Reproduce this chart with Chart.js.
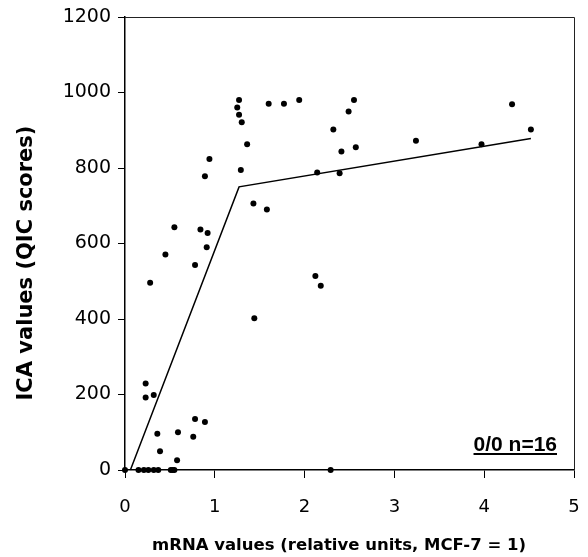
<!DOCTYPE html>
<html>
<head>
<meta charset="utf-8">
<script src="https://cdn.jsdelivr.net/npm/chart.js@4/dist/chart.umd.min.js"></script>
<style>
  html, body { margin: 0; padding: 0; background: #ffffff; }
  #wrap { width: 588px; height: 557px; }
</style>
</head>
<body>
<div id="wrap"><canvas id="chart" width="588" height="557"></canvas></div>
<script>
// ---- data ----
const mrnaValues = [
  1.27, 1.25, 1.27, 1.30, 1.60, 1.77, 1.94, 1.36, 0.94, 0.89,
  1.29, 1.43, 1.58, 0.55, 0.84, 0.92, 0.91, 2.55, 2.49, 2.32,
  2.41, 2.57, 3.24, 2.14, 2.39, 3.97, 4.31, 4.52, 0.45, 0.78,
  0.28, 1.44, 0.23, 0.23, 0.32, 0.78, 0.89, 0.59, 0.36, 0.76,
  0.39, 0.58, 2.12, 2.18, 2.29,
  0.00, 0.15, 0.21, 0.26, 0.32, 0.37, 0.51, 0.53, 0.55
];
const icaValues = [
  980, 960, 941, 921, 970, 970, 980, 863, 824, 778,
  795, 706, 690, 643, 637, 628, 590, 980, 950, 902,
  844, 855, 872, 788, 786, 863, 969, 902, 571, 543,
  496, 402, 229, 192, 199, 135, 127, 100, 96, 88,
  50, 26, 514, 488, 0,
  0, 0, 0, 0, 0, 0, 0, 0, 0
];
const fitX = [0.06, 1.27, 4.52];
const fitY = [0, 750, 878];
const xTickValues = [0, 1, 2, 3, 4, 5];
const yTickValues = [0, 200, 400, 600, 800, 1000, 1200];
const xTitle = 'mRNA values (relative units, MCF-7 = 1)';
const yTitle = 'ICA values (QIC scores)';
const cornerLabel = '0/0 n=16';

// ---- build datasets ----
const pointData = mrnaValues.map((x, i) => ({ x: x, y: icaValues[i] }));
const fitData = fitX.map((x, i) => ({ x: x, y: fitY[i] }));

const FONT = '"DejaVu Sans", Verdana, sans-serif';

const frameAndLabels = {
  id: 'frameAndLabels',
  afterDraw(chart) {
    const { ctx, chartArea } = chart;
    ctx.save();
    // top and right frame lines
    ctx.strokeStyle = '#222';
    ctx.lineWidth = 1;
    ctx.beginPath();
    ctx.moveTo(chartArea.left, chartArea.top + 0.5);
    ctx.lineTo(chartArea.right + 0.5, chartArea.top + 0.5);
    ctx.lineTo(chartArea.right + 0.5, chartArea.bottom);
    ctx.stroke();

    // axis titles
    ctx.fillStyle = '#000';
    ctx.textAlign = 'center';
    ctx.textBaseline = 'middle';
    ctx.font = 'bold 16.5px ' + FONT;
    ctx.fillText(xTitle, 339, 546);
    ctx.save();
    ctx.translate(27, 263);
    ctx.rotate(-Math.PI / 2);
    ctx.font = 'bold 21px ' + FONT;
    ctx.fillText(yTitle, 0, 0);
    ctx.restore();

    // corner label, underlined
    ctx.font = 'bold 21px "Liberation Sans", Arial, sans-serif';
    ctx.textAlign = 'right';
    ctx.textBaseline = 'alphabetic';
    const xr = chartArea.right - 17;
    const yb = 451;
    ctx.fillText(cornerLabel, xr, yb);
    const w = ctx.measureText(cornerLabel).width;
    ctx.fillRect(xr - w, yb + 2, w, 2);
    ctx.restore();
  }
};

new Chart(document.getElementById('chart'), {
  type: 'scatter',
  data: {
    datasets: [
      {
        label: 'samples',
        data: pointData,
        backgroundColor: '#000',
        borderWidth: 0,
        pointRadius: 3,
        pointHoverRadius: 3,
        clip: false
      },
      {
        label: 'fit',
        data: fitData,
        showLine: true,
        borderColor: '#000',
        borderWidth: 1.5,
        pointRadius: 0,
        fill: false,
        tension: 0,
        clip: false
      }
    ]
  },
  options: {
    responsive: false,
    animation: false,
    devicePixelRatio: 1,
    layout: { padding: { top: 17, right: 14, left: 0, bottom: 0 } },
    plugins: { legend: { display: false }, tooltip: { enabled: false } },
    scales: {
      x: {
        type: 'linear',
        min: 0,
        max: 5,
        afterFit(scale) { scale.height = 87; scale.paddingLeft = 0; scale.paddingRight = 0; },
        afterBuildTicks(scale) { scale.ticks = xTickValues.map(v => ({ value: v })); },
        ticks: {
          color: '#000',
          padding: 19,
          callback: v => String(v),
          font: { family: FONT, size: 18 }
        },
        grid: { drawOnChartArea: false, drawTicks: true, tickLength: 8, color: '#000', tickWidth: 1 },
        border: { color: '#000', width: 1.5 }
      },
      y: {
        type: 'linear',
        min: 0,
        max: 1200,
        afterFit(scale) { scale.width = 125; scale.paddingTop = 0; scale.paddingBottom = 0; },
        afterBuildTicks(scale) { scale.ticks = yTickValues.map(v => ({ value: v })); },
        ticks: {
          color: '#000',
          padding: 7,
          callback: v => String(v),
          font: { family: FONT, size: 19 }
        },
        grid: { drawOnChartArea: false, drawTicks: true, tickLength: 7, color: '#000', tickWidth: 1 },
        border: { color: '#000', width: 1.5 }
      }
    }
  },
  plugins: [frameAndLabels]
});
</script>
</body>
</html>
